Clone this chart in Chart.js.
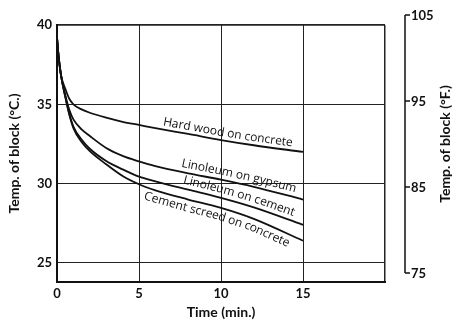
<!DOCTYPE html>
<html>
<head>
<meta charset="utf-8">
<script src="https://cdn.jsdelivr.net/npm/chart.js@4.4.1/dist/chart.umd.min.js"></script>
<style>
  html, body { margin: 0; padding: 0; background: #fff; }
  #wrap { width: 456px; height: 323px; }
</style>
</head>
<body>
<div id="wrap"><canvas id="coolingChart"></canvas></div>
<script>
// time after contact (min.) and block temperature (deg C)
const times = [0, 0.1, 0.25, 0.5, 0.75, 1, 1.5, 2, 3, 4, 5, 6, 8, 10, 12, 15];
const hardWood = [39.2, 38.0, 36.8, 36.0, 35.35, 35.0, 34.68, 34.47, 34.16, 33.9, 33.7, 33.5, 33.13, 32.75, 32.42, 32.0];
const linoGypsum = [39.2, 38.0, 36.8, 35.6, 34.65, 34.05, 33.42, 33.0, 32.25, 31.75, 31.4, 31.1, 30.65, 30.25, 29.8, 29.0];
const linoCement = [39.2, 38.0, 36.8, 35.5, 34.4, 33.6, 32.78, 32.2, 31.43, 30.9, 30.44, 30.15, 29.62, 29.1, 28.5, 27.4];
const cementScreed = [39.2, 38.0, 36.8, 35.5, 34.35, 33.5, 32.62, 32.05, 31.22, 30.48, 29.96, 29.58, 29.0, 28.47, 27.78, 26.4];

const seriesNames = ['Hard wood on concrete', 'Linoleum on gypsum', 'Linoleum on cement', 'Cement screed on concrete'];
const labelStarts = [6.4, 7.5, 7.6, 5.5]; // minute where each curve label begins

const timeTicks = [0, 5, 10, 15];
const celsiusTicks = [25, 30, 35, 40];
const fahrenheitTicks = [75, 85, 95, 105];

const INK = '#111';
const tickFont = { family: 'Lato', size: 13, weight: 'bold' };
const titleFont = { family: 'Lato', size: 14, weight: 'bold' };

// text written along each curve
const curveLabels = {
  id: 'curveLabels',
  afterDatasetsDraw(chart) {
    const ctx = chart.ctx;
    const xs = chart.scales.x;
    const gaps = [4, 5, 5, -12];
    ctx.save();
    ctx.font = '12px "Open Sans"';
    ctx.fillStyle = INK;
    ctx.textAlign = 'center';
    ctx.textBaseline = 'alphabetic';
    chart.data.datasets.forEach((ds, i) => {
      const pts = chart.getDatasetMeta(i).data.map(p => ({ x: p.x, y: p.y }));
      const cum = [0];
      for (let k = 1; k < pts.length; k++) {
        cum.push(cum[k - 1] + Math.hypot(pts[k].x - pts[k - 1].x, pts[k].y - pts[k - 1].y));
      }
      const pos = d => {
        let k = 1;
        while (k < pts.length - 1 && cum[k] < d) k++;
        const t = (d - cum[k - 1]) / (cum[k] - cum[k - 1]);
        return { x: pts[k - 1].x + t * (pts[k].x - pts[k - 1].x), y: pts[k - 1].y + t * (pts[k].y - pts[k - 1].y) };
      };
      // distance along the curve where the label starts
      const sx = xs.getPixelForValue(labelStarts[i]);
      let k = 1;
      while (k < pts.length - 1 && pts[k].x < sx) k++;
      let d = cum[k - 1] + (sx - pts[k - 1].x) / (pts[k].x - pts[k - 1].x) * (cum[k] - cum[k - 1]);
      for (const ch of ds.label) {
        const w = ctx.measureText(ch).width;
        const p = pos(d + w / 2);
        const a0 = pos(d + w / 2 - 8), a1 = pos(d + w / 2 + 8);
        const a = Math.atan2(a1.y - a0.y, a1.x - a0.x);
        ctx.save();
        ctx.translate(p.x + Math.sin(a) * gaps[i], p.y - Math.cos(a) * gaps[i]);
        ctx.rotate(a);
        ctx.fillText(ch, 0, 0);
        ctx.restore();
        d += w;
      }
    });
    ctx.restore();
  }
};

// separate Fahrenheit scale standing to the right of the plot
const fahrenheitAxis = {
  id: 'fahrenheitAxis',
  afterDraw(chart) {
    const s = chart.scales.yF;
    const ctx = chart.ctx;
    const x0 = chart.chartArea.right + 20;
    const top = s.getPixelForValue(Math.max(...fahrenheitTicks));
    const bot = s.getPixelForValue(Math.min(...fahrenheitTicks));
    ctx.save();
    ctx.strokeStyle = INK;
    ctx.lineWidth = 1.5;
    ctx.beginPath();
    ctx.moveTo(x0, top);
    ctx.lineTo(x0, bot);
    fahrenheitTicks.forEach(v => {
      const y = s.getPixelForValue(v);
      ctx.moveTo(x0, y);
      ctx.lineTo(x0 + 5, y);
    });
    ctx.stroke();
    ctx.fillStyle = INK;
    ctx.font = 'bold 13px Lato';
    ctx.textAlign = 'left';
    ctx.textBaseline = 'middle';
    fahrenheitTicks.forEach(v => ctx.fillText(String(v), x0 + 6, s.getPixelForValue(v) + 1));
    ctx.font = 'bold 14px Lato';
    ctx.translate(chart.width - 11, (top + bot) / 2);
    ctx.rotate(-Math.PI / 2);
    ctx.textAlign = 'center';
    ctx.fillText('Temp. of block (°F.)', 0, 0);
    ctx.restore();
  }
};

const seriesData = [hardWood, linoGypsum, linoCement, cementScreed];

new Chart(document.getElementById('coolingChart'), {
  type: 'line',
  data: {
    labels: times,
    datasets: seriesData.map((vals, i) => ({
      label: seriesNames[i],
      data: times.map((t, j) => ({ x: t, y: vals[j] })),
      borderColor: INK,
      borderWidth: 1.8,
      pointRadius: 0,
      fill: false,
      cubicInterpolationMode: 'monotone'
    }))
  },
  options: {
    responsive: true,
    maintainAspectRatio: false,
    animation: false,
    layout: { padding: { left: 0, top: 25, right: 71, bottom: 0 } },
    plugins: { legend: { display: false }, tooltip: { enabled: false } },
    scales: {
      x: {
        type: 'linear',
        min: 0,
        max: 20,
        afterFit: s => { s.height = 41; },
        border: { color: INK, width: 2 },
        grid: { color: '#222', lineWidth: c => (c.tick && c.tick.value === 20 ? 1.5 : 1), drawTicks: false },
        ticks: {
          stepSize: 5,
          padding: 4,
          color: INK,
          font: tickFont,
          callback: v => (timeTicks.includes(v) ? String(v) : '')
        },
        title: {
          display: true,
          text: 'Time (min.)',
          color: INK,
          font: titleFont,
          padding: { top: 0, bottom: 2 }
        }
      },
      y: {
        min: 23.8,
        max: 40,
        afterFit: s => { s.width = 57; },
        border: { color: INK, width: 2 },
        grid: { color: '#222', lineWidth: c => (c.tick && c.tick.value === 40 ? 1.8 : 1), drawTicks: false },
        ticks: {
          stepSize: 5,
          includeBounds: false,
          padding: 5,
          color: INK,
          font: tickFont,
          callback: v => (celsiusTicks.includes(v) ? String(v) : '')
        },
        title: {
          display: true,
          text: 'Temp. of block (°C.)',
          color: INK,
          font: titleFont,
          padding: { top: 6, bottom: 0 }
        }
      },
      yF: {
        type: 'linear',
        position: 'right',
        display: false,
        min: 73.95,
        max: 103.85
      }
    }
  },
  plugins: [curveLabels, fahrenheitAxis]
});
</script>
</body>
</html>
